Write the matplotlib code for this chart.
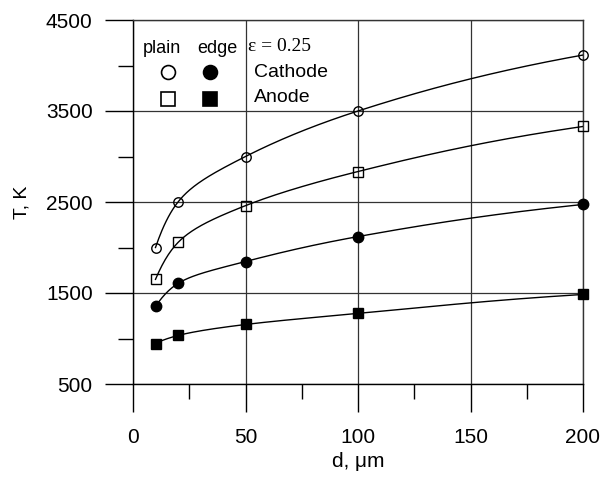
import numpy as np
import matplotlib
matplotlib.use('Agg')
from matplotlib import pyplot as plt

plt.rcParams['font.family'] = ['Liberation Sans', 'DejaVu Sans']

# data
d_um = [10, 20, 50, 100, 200]
plain_cathode = [2000, 2500, 3000, 3500, 4115]
plain_anode = [1650, 2055, 2460, 2835, 3330]
edge_cathode = [1352, 1605, 1846, 2120, 2473]
edge_anode = [945, 1033, 1154, 1275, 1484]

x_ticks = [0, 50, 100, 150, 200]
y_ticks = [500, 1500, 2500, 3500, 4500]


def pchip(x, y, xs):
    # monotone cubic (Fritsch-Carlson) through the points, done in ln(d)
    x = np.log(np.asarray(x, float))
    y = np.asarray(y, float)
    t = np.log(xs)
    h = np.diff(x)
    delta = np.diff(y) / h
    m = np.zeros_like(y)
    for k in range(1, len(x) - 1):
        if delta[k - 1] * delta[k] > 0:
            w1 = 2 * h[k] + h[k - 1]
            w2 = h[k] + 2 * h[k - 1]
            m[k] = (w1 + w2) / (w1 / delta[k - 1] + w2 / delta[k])
    m[0] = delta[0]
    m[-1] = delta[-1]
    idx = np.clip(np.searchsorted(x, t) - 1, 0, len(x) - 2)
    s = (t - x[idx]) / h[idx]
    h00 = 2 * s**3 - 3 * s**2 + 1
    h10 = s**3 - 2 * s**2 + s
    h01 = -2 * s**3 + 3 * s**2
    h11 = s**3 - s**2
    return h00 * y[idx] + h10 * h[idx] * m[idx] + h01 * y[idx + 1] + h11 * h[idx] * m[idx + 1]


fig = plt.figure(figsize=(6.01, 4.82), dpi=100)
ax = fig.add_axes([133 / 601, 1 - 384 / 482, 450 / 601, 364 / 482])

xs = np.linspace(d_um[0], d_um[-1], 400)
series = [
    (plain_cathode, 'o', 'none', 6.8),
    (plain_anode, 's', 'none', 6.8),
    (edge_cathode, 'o', 'black', 7.5),
    (edge_anode, 's', 'black', 7.5),
]
for vals, mk, fc, ms in series:
    ax.plot(xs, pchip(d_um, vals, xs), color='black', lw=1.0, zorder=3)
    ax.plot(d_um, vals, ls='none', marker=mk, mfc=fc, mec='black', mew=1.0,
            ms=ms, zorder=4, clip_on=False)

ax.set_xlim(0, 200)
ax.set_ylim(500, 4500)
ax.set_xticks(x_ticks)
ax.set_yticks(y_ticks)
ax.set_xticks([25, 75, 125, 175], minor=True)
ax.set_yticks([1000, 2000, 3000, 4000], minor=True)
ax.tick_params(which='major', direction='out', length=20, width=1.0,
               labelsize=15, top=False, right=False)
ax.tick_params(axis='x', which='major', pad=12)
ax.tick_params(axis='y', which='major', pad=9)
ax.tick_params(which='minor', direction='out', length=10.5, width=1.0,
               top=False, right=False)
ax.grid(True, which='major', color='0.2', lw=0.9)
for sp in ax.spines.values():
    sp.set_linewidth(1.0)
ax.spines['top'].set_color('0.2')
ax.spines['right'].set_color('0.2')

ax.set_xlabel('d, μm', fontsize=15, labelpad=3)
ax.set_ylabel('T, K', fontsize=14, labelpad=11)

# hand-made legend
tr = ax.transAxes
ax.text(0.064, 0.923, 'plain', transform=tr, fontsize=13, ha='center', va='center')
ax.text(0.187, 0.923, 'edge', transform=tr, fontsize=13, ha='center', va='center')
ax.text(0.256, 0.926, 'ε = 0.25', transform=tr, fontsize=14, ha='left', va='center',
        family='Liberation Serif')
ax.text(0.2696, 0.857, 'Cathode', transform=tr, fontsize=14, ha='left', va='center')
ax.text(0.2696, 0.786, 'Anode', transform=tr, fontsize=14, ha='left', va='center')
for xf, yf, mk, fc in [(0.0785, 0.856, 'o', 'white'), (0.170, 0.856, 'o', 'black'),
                       (0.0785, 0.783, 's', 'white'), (0.170, 0.783, 's', 'black')]:
    ax.plot([xf], [yf], transform=tr, marker=mk, mfc=fc, mec='black', mew=1.2,
            ms=10, ls='none', clip_on=False)

fig.savefig('out.png', dpi=100, facecolor='white')
